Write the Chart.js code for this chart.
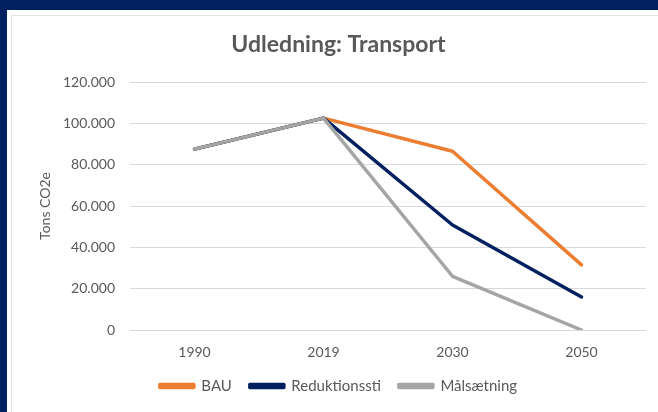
<!DOCTYPE html>
<html>
<head>
<meta charset="utf-8">
<script src="https://cdn.jsdelivr.net/npm/chart.js@4.4.1/dist/chart.umd.min.js"></script>
<style>
  html, body { margin: 0; padding: 0; background: #002060; width: 658px; height: 412px; overflow: hidden; }
  #panel { position: absolute; left: 7px; top: 10px; width: 700px; height: 420px; background: #ffffff; }
  #frame { position: absolute; left: 11px; top: 15px; width: 700px; height: 420px; border-left: 1px solid #E3E3E3; border-top: 1px solid #E3E3E3; box-sizing: border-box; }
  #wrap { position: absolute; left: 11px; top: 15px; width: 647px; height: 397px; }
</style>
</head>
<body>
<div id="panel"></div>
<div id="frame"></div>
<div id="wrap"><canvas id="c" width="647" height="397"></canvas></div>
<script>
const categories = ['1990', '2019', '2030', '2050'];
const bau = [87500, 102500, 86500, 31500];
const reduktionssti = [87500, 102500, 50800, 16000];
const maalsaetning = [87500, 102500, 26000, 0];
const seriesNames = ['BAU', 'Reduktionssti', 'Målsætning'];
const yTickValues = [0, 20000, 40000, 60000, 80000, 100000, 120000];
const yTickLabels = ['0', '20.000', '40.000', '60.000', '80.000', '100.000', '120.000'];

const font = 'Lato, "Open Sans", sans-serif';
const textColor = '#595959';

new Chart(document.getElementById('c'), {
  type: 'line',
  data: {
    labels: categories,
    datasets: [
      { label: seriesNames[0], data: bau, borderColor: '#ED7D31', backgroundColor: '#ED7D31', order: 2 },
      { label: seriesNames[1], data: reduktionssti, borderColor: '#002060', backgroundColor: '#002060', order: 1 },
      { label: seriesNames[2], data: maalsaetning, borderColor: '#A5A5A5', backgroundColor: '#A5A5A5', order: 0 }
    ].map(d => Object.assign(d, { borderWidth: 3.5, pointRadius: 0, tension: 0, borderCapStyle: 'round', borderJoinStyle: 'round', fill: false }))
  },
  options: {
    responsive: false,
    animation: false,
    devicePixelRatio: 1,
    layout: { padding: { left: 20, right: 12, top: 0, bottom: 8.5 } },
    plugins: {
      title: {
        display: true,
        text: 'Udledning: Transport',
        color: textColor,
        font: { family: font, size: 23, weight: 'bold', lineHeight: 1.2 },
        padding: { top: 16, bottom: 23.4 }
      },
      legend: {
        position: 'bottom',
        labels: {
          sort: (a, b) => a.datasetIndex - b.datasetIndex,
          color: textColor,
          font: { family: font, size: 15 },
          boxWidth: 34,
          boxHeight: 3,
          padding: 18
        }
      },
      tooltip: { enabled: false }
    },
    scales: {
      x: {
        offset: true,
        grid: { display: false, drawTicks: false },
        border: { display: false },
        ticks: { color: textColor, font: { family: font, size: 14 }, padding: 14 },
        afterFit: s => { s.height = 30.5; }
      },
      y: {
        min: 0,
        max: 120000,
        afterBuildTicks: s => { s.ticks = yTickValues.map(v => ({ value: v })); },
        grid: { color: '#D9D9D9', lineWidth: 1, drawTicks: false },
        border: { display: false },
        ticks: {
          color: textColor,
          font: { family: font, size: 14 },
          padding: 15,
          callback: v => yTickLabels[yTickValues.indexOf(v)]
        },
        title: {
          display: true,
          text: 'Tons CO2e',
          color: textColor,
          font: { family: font, size: 14 },
          padding: { top: 6, bottom: 0 }
        },
        afterFit: s => { s.width = 99; }
      }
    }
  }
});
</script>
</body>
</html>
